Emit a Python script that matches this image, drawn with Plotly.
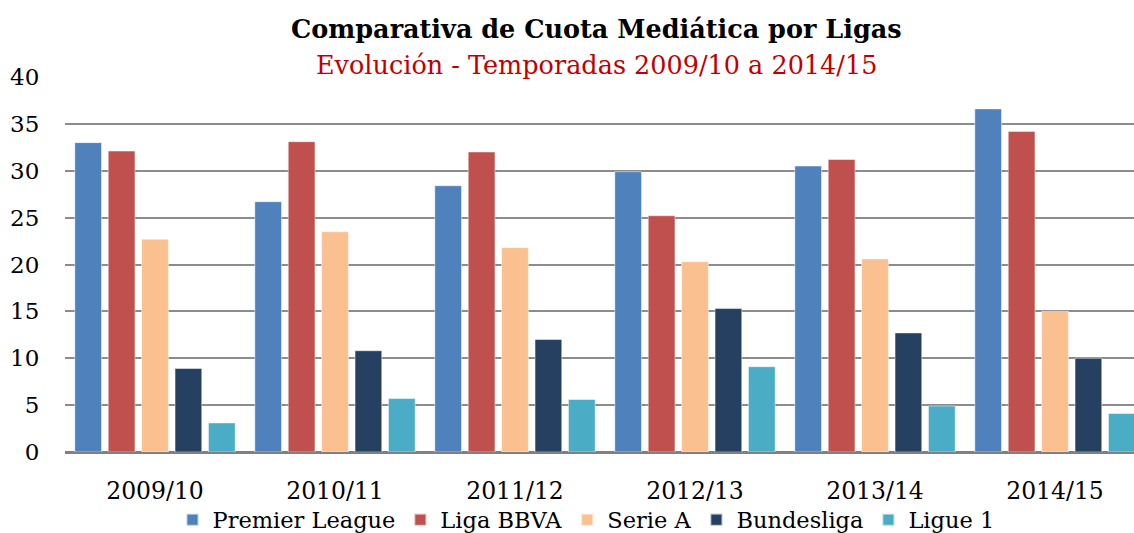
import plotly.graph_objects as go

seasons = ["2009/10", "2010/11", "2011/12", "2012/13", "2013/14", "2014/15"]
premier_league = [33.0, 26.7, 28.4, 29.9, 30.5, 36.6]
liga_bbva = [32.1, 33.1, 32.0, 25.2, 31.2, 34.2]
serie_a = [22.7, 23.5, 21.8, 20.3, 20.6, 15.0]
bundesliga = [8.9, 10.8, 12.0, 15.3, 12.7, 10.0]
ligue_1 = [3.1, 5.7, 5.6, 9.1, 4.9, 4.1]

series = [
    ("Premier League", premier_league, "#4F81BD"),
    ("Liga BBVA", liga_bbva, "#C0504D"),
    ("Serie A", serie_a, "#FAC090"),
    ("Bundesliga", bundesliga, "#254061"),
    ("Ligue 1", ligue_1, "#4BACC6"),
]

FONT = "DejaVu Serif"

fig = go.Figure()
for name, vals, col in series:
    fig.add_trace(go.Bar(
        x=seasons, y=vals, name=name,
        marker=dict(color=col, line=dict(color="rgba(255,255,255,0.6)", width=0.8)),
    ))

W, H = 1134, 533
ml, mr, mt, mb = 65, 0, 77, 81
plot_h = H - mt - mb
plot_w = W - ml - mr
x_hi = -0.5 + plot_w / 180.0

fig.update_layout(
    width=W, height=H,
    margin=dict(l=ml, r=mr, t=mt, b=mb, pad=0, autoexpand=False),
    paper_bgcolor="white", plot_bgcolor="white",
    barmode="group", bargap=0.072, bargroupgap=0.2,
    font=dict(family=FONT, color="black", size=22),
    showlegend=True,
    legend=dict(orientation="h", x=(586 - ml) / plot_w, xanchor="center", y=(452 - 520) / 375, yanchor="middle",
                font=dict(family=FONT, size=22.5), traceorder="normal",
                itemsizing="constant", bgcolor="rgba(0,0,0,0)", tracegroupgap=0),
    xaxis=dict(range=[-0.5, x_hi], showgrid=False, showline=False, zeroline=False,
               ticks="outside", ticklen=18, tickcolor="rgba(0,0,0,0)",
               tickfont=dict(family=FONT, size=23.5), fixedrange=True),
    yaxis=dict(range=[0, 40], dtick=5, showgrid=True, gridcolor="#8C8C8C", gridwidth=1.5,
               zeroline=True, zerolinecolor="#808080", zerolinewidth=2.5,
               showline=False, ticks="outside", ticklen=20, tickcolor="rgba(0,0,0,0)",
               tickfont=dict(family=FONT, size=23), fixedrange=True),
    annotations=[
        dict(text="<b>Comparativa de Cuota Mediática por Ligas</b>", xref="paper", yref="paper",
             x=(596 - ml) / plot_w, y=(H - mb - 29) / plot_h, xanchor="center", yanchor="middle",
             showarrow=False, font=dict(family=FONT, size=25.5, color="black")),
        dict(text="Evolución - Temporadas 2009/10 a 2014/15", xref="paper", yref="paper",
             x=(596 - ml) / plot_w, y=(H - mb - 65) / plot_h, xanchor="center", yanchor="middle",
             showarrow=False, font=dict(family=FONT, size=25.5, color="#C00000")),
    ],
)

fig.write_html("out.html", config={"displayModeBar": False},
               post_script="document.body.style.margin='0';document.body.style.overflow='hidden';")
